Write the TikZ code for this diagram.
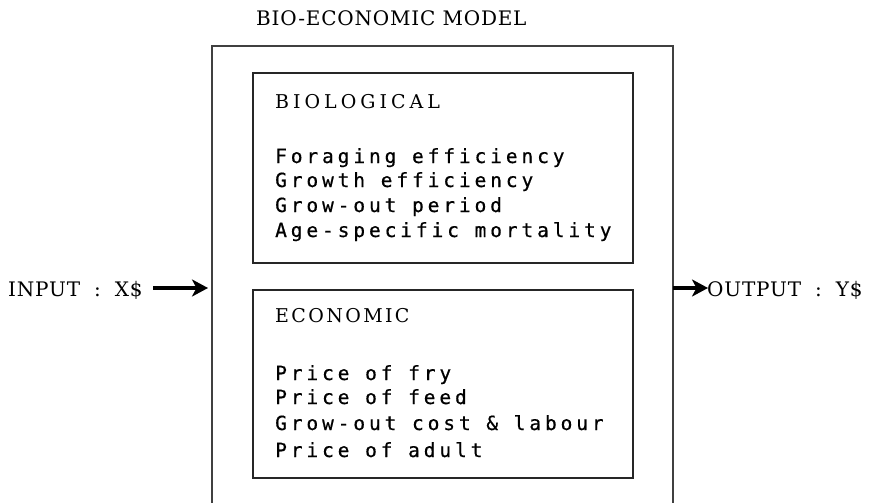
\documentclass[tikz,border=0pt]{standalone}
\usepackage{fontspec}
\setmainfont{DejaVu Serif}
\newfontfamily\titlefont[LetterSpace=4]{DejaVu Serif}
\newfontfamily\printfont[LetterSpace=20,FakeBold=0.6]{DejaVu Sans Mono}
\newfontfamily\biohead[LetterSpace=21]{DejaVu Serif}
\newfontfamily\ecohead[LetterSpace=12.5]{DejaVu Serif}
\usetikzlibrary{arrows.meta}
\begin{document}
\begin{tikzpicture}[x=1pt,y=-1pt,
  outerbox/.style={draw=black!75,line width=1.1pt},
  innerbox/.style={draw=black!85,line width=1.4pt},
  title/.style={anchor=base west,inner sep=0pt,font=\titlefont\fontsize{20}{20}\selectfont},
  heading/.style={anchor=base west,inner sep=0pt},
  item/.style={anchor=base west,inner sep=0pt,font=\printfont\fontsize{19.5}{19.5}\selectfont},
  flow/.style={line width=3.2pt,-{Stealth[length=16pt,width=17pt,inset=4.5pt]}}]
\useasboundingbox (0,0) rectangle (878,503);
% outer model frame (its lower edge runs past the page)
\draw[outerbox] (212,46) rectangle (673,506);
\coordinate (inL) at (212,288);
\coordinate (outR) at (673,288);
% inner blocks
\draw[innerbox] (253,73) rectangle (633,263);
\draw[innerbox] (253,290) rectangle (633,478);
% labels
\node[title] (model) at (256,26) {BIO-ECONOMIC MODEL};
\node[heading,font=\biohead\fontsize{19}{19}\selectfont] (bio) at (275,108) {BIOLOGICAL};
\node[item] (b1) at (275,163) {Foraging efficiency};
\node[item] (b2) at (275,187) {Growth efficiency};
\node[item] (b3) at (275,212) {Grow-out period};
\node[item] (b4) at (275,237) {Age-specific mortality};
\node[heading,font=\ecohead\fontsize{19}{19}\selectfont] (eco) at (275,322) {ECONOMIC};
\node[item] (e1) at (275,380) {Price of fry};
\node[item] (e2) at (275,404) {Price of feed};
\node[item] (e3) at (275,430) {Grow-out cost \& labour};
\node[item] (e4) at (275,457) {Price of adult};
% input and output
\node[title] (input) at (8,296) {INPUT\hspace{14pt}:\hspace{14pt}X\$};
\node[title] (output) at (707,296) {OUTPUT\hspace{14pt}:\hspace{14pt}Y\$};
\draw[flow] (153,288) -- ([xshift=-4pt]inL);
\draw[flow] (outR) -- ([xshift=1pt]output.west |- outR);
\end{tikzpicture}
\end{document}
